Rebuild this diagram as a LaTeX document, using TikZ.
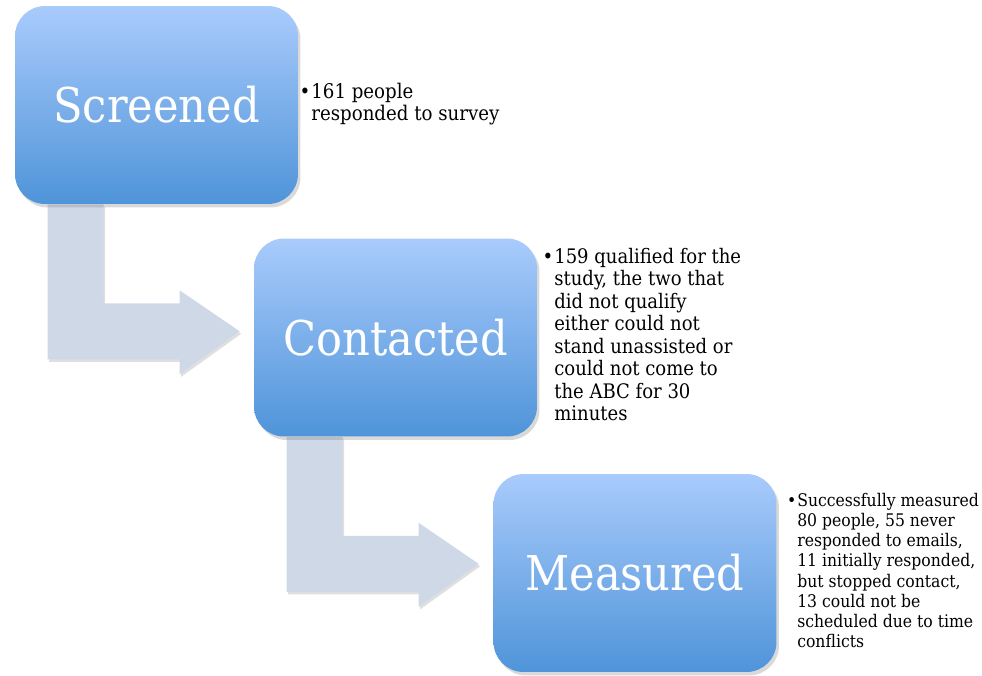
\documentclass[tikz,border=0pt]{standalone}
\usepackage{fontspec}
\setmainfont{DejaVu Serif Condensed}
\usetikzlibrary{positioning,shadows,backgrounds}

\definecolor{boxtop}{RGB}{169,203,252}
\definecolor{boxbot}{RGB}{79,148,217}
\definecolor{flow}{RGB}{206,216,230}

\begin{document}
\begin{tikzpicture}[x=0.02cm,y=-0.02cm]
\tikzset{stage/.style={rounded corners=0.6cm,minimum width=5.66cm,minimum height=3.96cm,top color=boxtop,bottom color=boxbot,text=white,font=\fontsize{27.3}{30}\selectfont,drop shadow={opacity=0.3,shadow xshift=0.05cm,shadow yshift=-0.07cm}},
  note/.style={inner sep=0pt,align=left}}
\useasboundingbox (0,0) rectangle (982,675);
% the three stages of recruitment
\node[stage] (scr) at (156.5,105) {Screened};
\node[stage] (con) at (395.5,337.5) {Contacted};
\node[stage] (mea) at (635,573) {Measured};
% bent arrows from one stage down to the next, behind the boxes
\begin{pgfonlayer}{background}
\foreach \a in {scr,con}{
  \begin{scope}[shift={(\a.south west)}]
    \fill[flow,drop shadow={opacity=0.25,shadow xshift=0.03cm,shadow yshift=-0.05cm}]
      (33,0) -- (89,0) -- (89,99) -- (165,99) -- (165,86) -- (225,127)
      -- (165,170) -- (165,155) -- (33,155) -- cycle;
  \end{scope}}
\end{pgfonlayer}
% notes beside each stage
\node[note,font=\fontsize{11.5}{11.9}\selectfont,right=0.02cm of scr] (n1) {\begin{tabular}{@{}l@{\hspace{0.05em}}l@{}}
  \textbullet & 161 people\\ & responded to survey\end{tabular}};
\node[note,font=\fontsize{11.4}{12.8}\selectfont,right=0.1cm of con] (n2) {\begin{tabular}{@{}l@{\hspace{0.05em}}l@{}}
  \textbullet & 159 qualified for the\\ & study, the two that\\ & did not qualify\\ & either could not\\
  & stand unassisted or\\ & could not come to\\ & the ABC for 30\\ & minutes\end{tabular}};
\node[note,font=\fontsize{9.9}{11.5}\selectfont,right=0.2cm of mea] (n3) {\begin{tabular}{@{}l@{\hspace{0.05em}}l@{}}
  \textbullet & Successfully measured\\ & 80 people, 55 never\\ & responded to emails,\\ & 11 initially responded,\\
  & but stopped contact,\\ & 13 could not be\\ & scheduled due to time\\ & conflicts\end{tabular}};
\end{tikzpicture}
\end{document}
